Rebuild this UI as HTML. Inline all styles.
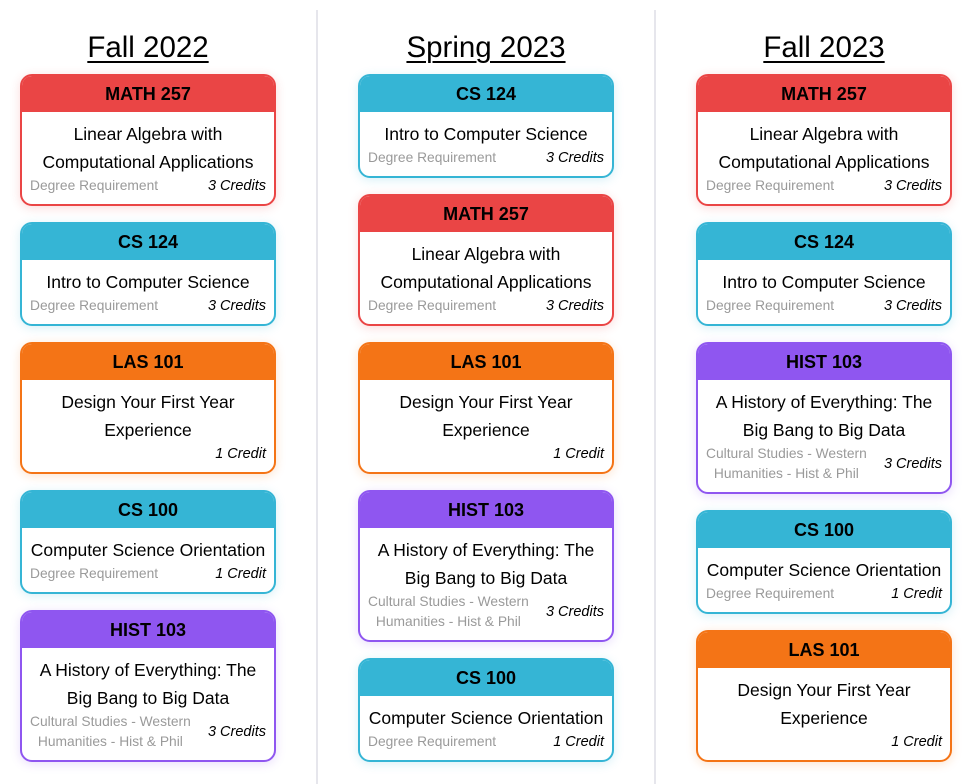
<!DOCTYPE html>
<html><head><meta charset="utf-8"><style>
*{box-sizing:border-box;margin:0;padding:0}
body{width:980px;height:784px;background:#fff;font-family:"Liberation Sans",sans-serif;position:relative;overflow:hidden}
.div{position:absolute;top:10px;width:2px;height:774px;background:#e6e6ec}
.col{position:absolute;top:0;width:256px}
.t{position:absolute;top:30px;left:0;width:256px;text-align:center;font-size:29.5px;line-height:36px;text-decoration:underline;text-decoration-thickness:2px;text-underline-offset:4px;color:#000}
.card{position:absolute;left:0;width:256px;border:2px solid;border-radius:12px;overflow:hidden;background:#fff}
.h{height:36px;line-height:36px;text-align:center;font-weight:bold;font-size:18px;color:#000}
.b{padding:8px 8px 8px}
.n{text-align:center;font-size:17.5px;line-height:28px;color:#000}
.f{display:flex;justify-content:space-between;align-items:center;font-size:13.8px;line-height:20px}
.l{color:#9a9a9a;text-align:center}
.r{font-style:italic;color:#000;margin-left:auto;font-size:14.5px}
.red{border-color:#ea4545;box-shadow:0 2px 10px rgba(234,69,69,.2)}.red .h{background:#ea4545}
.cy{border-color:#35b5d5;box-shadow:0 2px 10px rgba(53,181,213,.2)}.cy .h{background:#35b5d5}
.or{border-color:#f47416;box-shadow:0 2px 10px rgba(244,116,22,.2)}.or .h{background:#f47416}
.pu{border-color:#8f56f0;box-shadow:0 2px 10px rgba(143,86,240,.2)}.pu .h{background:#8f56f0}
</style></head><body>
<div class="div" style="left:316px"></div>
<div class="div" style="left:654px"></div>

<div class="col" style="left:20px">
<div class="t">Fall 2022</div>
<div class="card red" style="top:74px"><div class="h">MATH 257</div><div class="b"><div class="n">Linear Algebra with<br>Computational Applications</div><div class="f"><span class="l">Degree Requirement</span><span class="r">3 Credits</span></div></div></div>
<div class="card cy" style="top:222px"><div class="h">CS 124</div><div class="b"><div class="n">Intro to Computer Science</div><div class="f"><span class="l">Degree Requirement</span><span class="r">3 Credits</span></div></div></div>
<div class="card or" style="top:342px"><div class="h">LAS 101</div><div class="b"><div class="n">Design Your First Year<br>Experience</div><div class="f"><span class="r">1 Credit</span></div></div></div>
<div class="card cy" style="top:490px"><div class="h">CS 100</div><div class="b"><div class="n">Computer Science Orientation</div><div class="f"><span class="l">Degree Requirement</span><span class="r">1 Credit</span></div></div></div>
<div class="card pu" style="top:610px"><div class="h">HIST 103</div><div class="b"><div class="n">A History of Everything: The<br>Big Bang to Big Data</div><div class="f"><span class="l">Cultural Studies - Western<br>Humanities - Hist &amp; Phil</span><span class="r">3 Credits</span></div></div></div>
</div>

<div class="col" style="left:358px">
<div class="t">Spring 2023</div>
<div class="card cy" style="top:74px"><div class="h">CS 124</div><div class="b"><div class="n">Intro to Computer Science</div><div class="f"><span class="l">Degree Requirement</span><span class="r">3 Credits</span></div></div></div>
<div class="card red" style="top:194px"><div class="h">MATH 257</div><div class="b"><div class="n">Linear Algebra with<br>Computational Applications</div><div class="f"><span class="l">Degree Requirement</span><span class="r">3 Credits</span></div></div></div>
<div class="card or" style="top:342px"><div class="h">LAS 101</div><div class="b"><div class="n">Design Your First Year<br>Experience</div><div class="f"><span class="r">1 Credit</span></div></div></div>
<div class="card pu" style="top:490px"><div class="h">HIST 103</div><div class="b"><div class="n">A History of Everything: The<br>Big Bang to Big Data</div><div class="f"><span class="l">Cultural Studies - Western<br>Humanities - Hist &amp; Phil</span><span class="r">3 Credits</span></div></div></div>
<div class="card cy" style="top:658px"><div class="h">CS 100</div><div class="b"><div class="n">Computer Science Orientation</div><div class="f"><span class="l">Degree Requirement</span><span class="r">1 Credit</span></div></div></div>
</div>

<div class="col" style="left:696px">
<div class="t">Fall 2023</div>
<div class="card red" style="top:74px"><div class="h">MATH 257</div><div class="b"><div class="n">Linear Algebra with<br>Computational Applications</div><div class="f"><span class="l">Degree Requirement</span><span class="r">3 Credits</span></div></div></div>
<div class="card cy" style="top:222px"><div class="h">CS 124</div><div class="b"><div class="n">Intro to Computer Science</div><div class="f"><span class="l">Degree Requirement</span><span class="r">3 Credits</span></div></div></div>
<div class="card pu" style="top:342px"><div class="h">HIST 103</div><div class="b"><div class="n">A History of Everything: The<br>Big Bang to Big Data</div><div class="f"><span class="l">Cultural Studies - Western<br>Humanities - Hist &amp; Phil</span><span class="r">3 Credits</span></div></div></div>
<div class="card cy" style="top:510px"><div class="h">CS 100</div><div class="b"><div class="n">Computer Science Orientation</div><div class="f"><span class="l">Degree Requirement</span><span class="r">1 Credit</span></div></div></div>
<div class="card or" style="top:630px"><div class="h">LAS 101</div><div class="b"><div class="n">Design Your First Year<br>Experience</div><div class="f"><span class="r">1 Credit</span></div></div></div>
</div>
</body></html>
